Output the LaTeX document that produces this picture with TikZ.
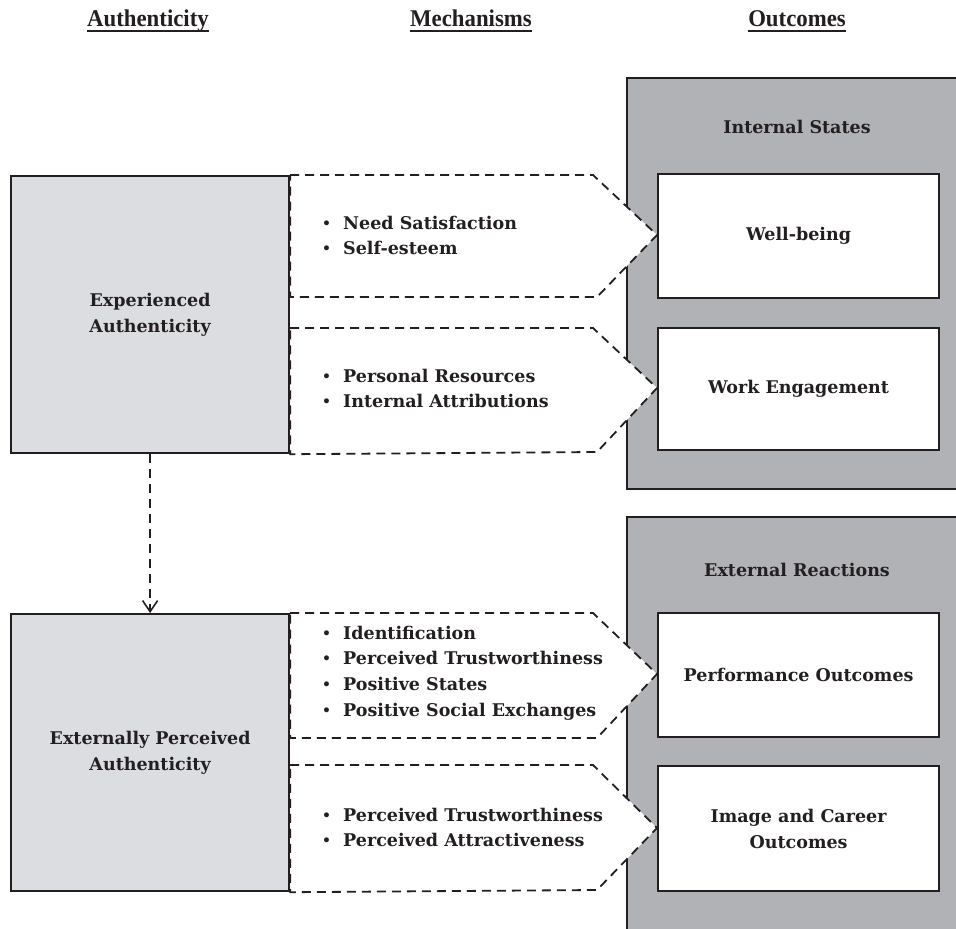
\documentclass[tikz,border=0pt]{standalone}
\usepackage{fontspec}
\setmainfont{DejaVu Serif}
\newfontfamily\headfont[FakeStretch=0.95]{Liberation Serif}
\usetikzlibrary{arrows.meta}
\definecolor{outergray}{HTML}{B1B2B5}
\definecolor{srcgray}{HTML}{DCDDE0}
\definecolor{ink}{HTML}{231F20}
\tikzset{
  heading/.style={font=\headfont\bfseries\fontsize{24}{26}\selectfont, inner sep=0pt, text=ink, anchor=base},
  body/.style={font=\bfseries\fontsize{17.5}{25.8}\selectfont, text=ink, inner sep=0pt},
  panel/.style={draw=ink, line width=2.2pt, fill=outergray, anchor=north west, inner sep=0pt},
  srcbox/.style={draw=ink, line width=2.2pt, fill=srcgray, anchor=north west, inner sep=0pt, minimum width=278pt},
  outbox/.style={draw=ink, line width=2.2pt, fill=white, anchor=north west, inner sep=0pt, minimum width=281pt},
  mech/.style={draw=ink, line width=1.8pt, fill=white, dash pattern=on 9pt off 6pt},
  underl/.style={draw=ink, line width=2.4pt},
  link/.style={draw=ink, line width=1.8pt, dash pattern=on 9pt off 6pt, -{Straight Barb[length=11pt,width=15pt,line width=1.6pt]}},
}
\newcommand{\itm}[1]{\makebox[21pt][l]{\raisebox{1pt}{\fontsize{14}{14}\selectfont•}}#1}
\begin{document}
\begin{tikzpicture}[x=1pt,y=-1pt]
\useasboundingbox (0,0) rectangle (956,929);
\clip (0,0) rectangle (956,929);
\fill[white] (0,0) rectangle (956,929);

% headings
\node[heading] (h1) at (148,26) {Authenticity};
\node[heading] (h2) at (471,26) {Mechanisms};
\node[heading] (h3) at (797,26) {Outcomes};
\draw[underl] (h1.west |- 0,31) -- (h1.east |- 0,31);
\draw[underl] (h2.west |- 0,31) -- (h2.east |- 0,31);
\draw[underl] (h3.west |- 0,31) -- (h3.east |- 0,31);

% outcome panels
\node[panel, minimum width=350pt, minimum height=411pt] (ip) at (626,77) {};
\node[panel, minimum width=350pt, minimum height=430pt] (ep) at (626,516) {};

% source boxes
\node[srcbox, minimum height=277pt] (exp) at (10,175) {};
\node[srcbox, minimum height=277pt] (ext) at (10,613) {};

% tips of the mechanism shapes (left edges of the outcome boxes)
\coordinate (wbw) at (657,235);
\coordinate (wew) at (657,388);
\coordinate (pow) at (657,674);
\coordinate (icw) at (657,828);

% mechanism shapes
\draw[mech] (exp.north east) -- (593,175) -- (wbw) -- (597,297) -- (exp.east |- 0,297) -- cycle;
\draw[mech] (exp.east |- 0,328) -- (593,328) -- (wew) -- (597,452) -- (exp.south east) -- cycle;
\draw[mech] (ext.north east) -- (593,613) -- (pow) -- (597,738) -- (ext.east |- 0,738) -- cycle;
\draw[mech] (ext.east |- 0,765) -- (593,765) -- (icw) -- (597,890) -- (ext.south east) -- cycle;

% outcome boxes
\node[outbox, minimum height=124pt] (wb) at (657,173) {};
\node[outbox, minimum height=122pt] (we) at (657,327) {};
\node[outbox, minimum height=124pt] (po) at (657,612) {};
\node[outbox, minimum height=125pt] (ic) at (657,765) {};

% link
\draw[link] (exp.south) -- (ext.north);

% texts
\node[body, align=center] (t1) at (exp.center) {Experienced\\Authenticity};
\node[body, align=center] (t2) at (ext.center) {Externally Perceived\\Authenticity};
\node[body] (t3) at (797,127) {Internal States};
\node[body] (t4) at (797,570) {External Reactions};
\node[body] (t5) at (wb.center) {Well-being};
\node[body] (t6) at (we.center) {Work Engagement};
\node[body] (t7) at (po.center) {Performance Outcomes};
\node[body, align=center] (t8) at (ic.center) {Image and Career\\Outcomes};

\node[body, align=left, anchor=west] (m1) at (322,235.5) {\itm{Need Satisfaction}\\\itm{Self-esteem}};
\node[body, align=left, anchor=west] (m2) at (322,388.5) {\itm{Personal Resources}\\\itm{Internal Attributions}};
\node[body, align=left, anchor=west] (m3) at (322,673) {\itm{Identification}\\\itm{Perceived Trustworthiness}\\\itm{Positive States}\\\itm{Positive Social Exchanges}};
\node[body, align=left, anchor=west] (m4) at (322,827.5) {\itm{Perceived Trustworthiness}\\\itm{Perceived Attractiveness}};
\end{tikzpicture}
\end{document}
